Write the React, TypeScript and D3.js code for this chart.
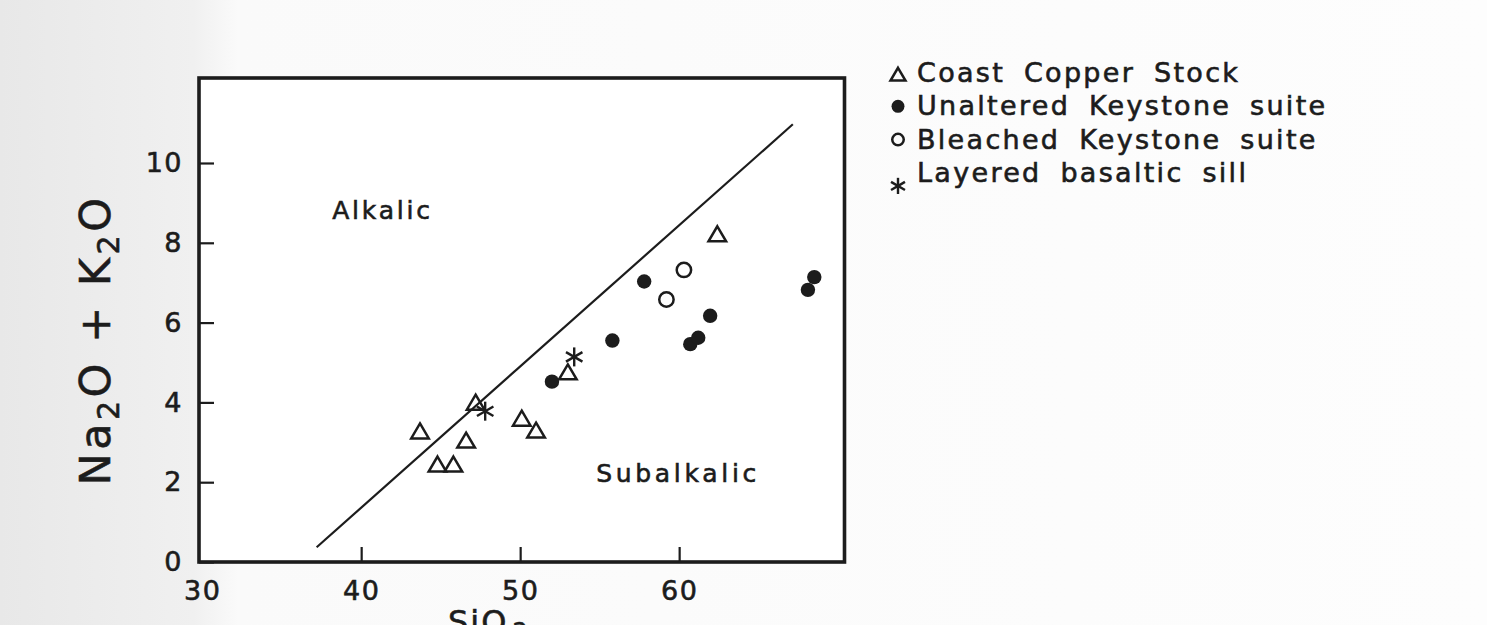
import React, { useEffect, useRef } from 'react';
import * as d3 from 'd3';

// values
const coastSiO2 = [43.7, 44.8, 45.8, 46.6, 47.2, 50.1, 51.0, 53.0, 62.4];
const coastAlk = [3.26, 2.43, 2.43, 3.03, 3.98, 3.58, 3.28, 4.74, 8.2];
const unalteredSiO2 = [52.0, 55.8, 57.8, 60.7, 61.2, 61.95, 68.1, 68.5];
const unalteredAlk = [4.52, 5.55, 7.03, 5.46, 5.62, 6.17, 6.82, 7.14];
const bleachedSiO2 = [59.2, 60.3];
const bleachedAlk = [6.58, 7.32];
const sillSiO2 = [47.8, 53.4];
const sillAlk = [3.78, 5.14];
const dividerSiO2 = [37.2, 67.15];
const dividerAlk = [0.37, 10.97];

const xTicks = [30, 40, 50, 60];
const yTicks = [0, 2, 4, 6, 8, 10];

const legendLabels = [
  'Coast Copper Stock',
  'Unaltered Keystone suite',
  'Bleached Keystone suite',
  'Layered basaltic sill',
];
const legendKinds = ['triangle', 'filled', 'open', 'star'];

const FONT = '"DejaVu Sans", sans-serif';
const INK = '#1c1c1c';

const Marker = ({ kind, x, y, s = 1 }: { kind: string; x: number; y: number; s?: number }) => {
  if (kind === 'triangle') {
    const w = 8.8 * s;
    return (
      <path
        d={`M${x},${y - 8.5 * s} L${x + w},${y + 6.5 * s} L${x - w},${y + 6.5 * s} Z`}
        fill="none"
        stroke={INK}
        strokeWidth={2.5}
        strokeLinejoin="miter"
      />
    );
  }
  if (kind === 'filled') return <circle cx={x} cy={y} r={7.2 * s} fill={INK} />;
  if (kind === 'open') return <circle cx={x} cy={y} r={7.2 * s} fill="none" stroke={INK} strokeWidth={2.5} />;
  const arm = 9.5 * s;
  const angles = [90, 30, 150];
  return (
    <g stroke={INK} strokeWidth={2.4}>
      {angles.map((a) => {
        const dx = Math.cos((a * Math.PI) / 180) * arm;
        const dy = Math.sin((a * Math.PI) / 180) * arm;
        return <line key={a} x1={x - dx} y1={y - dy} x2={x + dx} y2={y + dy} />;
      })}
    </g>
  );
};

const App = () => {
  const Width = 1487;
  const Height = 625;

  const xScale = d3.scaleLinear().domain([29.8, 70.4]).range([199, 844.5]);
  const yScale = d3.scaleLinear().domain([0, 12.13]).range([562, 78]);

  const xAxisRef = useRef<SVGGElement>(null);
  const yAxisRef = useRef<SVGGElement>(null);

  useEffect(() => {
    const xa = d3.select(xAxisRef.current!);
    xa.call(d3.axisBottom(xScale).tickValues(xTicks).tickSize(-15).tickPadding(19).tickFormat(d3.format('d')));
    xa.select('.domain').remove();
    xa.selectAll('line').attr('stroke', INK).attr('stroke-width', 2.2);
    // the 30 tick sits on the frame edge
    xa.selectAll<SVGGElement, number>('.tick').filter((d) => d === 30).select('line').remove();
    xa.selectAll('text')
      .attr('fill', INK)
      .attr('stroke', INK)
      .attr('stroke-width', 0.6)
      .style('font-size', '27px')
      .style('font-family', FONT)
      .style('letter-spacing', '1.5px');

    const ya = d3.select(yAxisRef.current!);
    ya.call(d3.axisLeft(yScale).tickValues(yTicks).tickSize(-15).tickPadding(16).tickFormat(d3.format('d')));
    ya.select('.domain').remove();
    ya.selectAll('line').attr('stroke', INK).attr('stroke-width', 2.2);
    ya.selectAll('text')
      .attr('fill', INK)
      .attr('stroke', INK)
      .attr('stroke-width', 0.6)
      .style('font-size', '27px')
      .style('font-family', FONT)
      .style('letter-spacing', '1.5px');
  }, []);

  const [x0, x1] = xScale.range();
  const [y0, y1] = yScale.range();

  const divider = d3
    .line<number>()
    .x((d) => xScale(d))
    .y((_, i) => yScale(dividerAlk[i]));

  const series = [
    { kind: 'triangle', xs: coastSiO2, ys: coastAlk },
    { kind: 'filled', xs: unalteredSiO2, ys: unalteredAlk },
    { kind: 'open', xs: bleachedSiO2, ys: bleachedAlk },
    { kind: 'star', xs: sillSiO2, ys: sillAlk },
  ];

  const legendOffsets = [-7, -9, -9, 4];
  const legendScale = [0.85, 0.9, 0.8, 0.85];

  const textStyle = { fontFamily: FONT, fill: INK, stroke: INK, strokeWidth: 0.6 };

  return (
    <svg width={Width} height={Height} style={{ position: 'absolute', left: 0, top: 0 }}>
      <defs>
        <linearGradient id="scan" x1="0" x2="1" y1="0" y2="0">
          <stop offset="0" stopColor="#e8e8e8" />
          <stop offset="0.13" stopColor="#f0f0f0" />
          <stop offset="0.16" stopColor="#fafafa" />
          <stop offset="1" stopColor="#fdfdfd" />
        </linearGradient>
      </defs>
      <rect x={0} y={0} width={Width} height={Height} fill="url(#scan)" />

      <rect x={x0} y={y1} width={x1 - x0} height={y0 - y1} fill="#ffffff" stroke={INK} strokeWidth={3.6} />

      <g ref={xAxisRef} transform={`translate(0, ${y0})`} />
      <g ref={yAxisRef} transform={`translate(${x0}, 0)`} />

      <path d={divider(dividerSiO2) || ''} fill="none" stroke={INK} strokeWidth={2.2} />

      {series.map((s) =>
        s.xs.map((v, i) => <Marker key={`${s.kind}-${i}`} kind={s.kind} x={xScale(v)} y={yScale(s.ys[i])} />)
      )}

      <text x={xScale(38.18)} y={yScale(8.6)} style={{ ...textStyle, fontSize: '25px', letterSpacing: '2.8px' }}>
        Alkalic
      </text>
      <text x={xScale(54.78)} y={yScale(2.0)} style={{ ...textStyle, fontSize: '25px', letterSpacing: '3.7px' }}>
        Subalkalic
      </text>

      <text
        transform={`translate(110, 340) rotate(-90)`}
        textAnchor="middle"
        style={{ ...textStyle, fontSize: '43px', letterSpacing: '3.5px' }}
      >
        Na<tspan fontSize="30px" dy="9">2</tspan>
        <tspan dy="-9">O  +  K</tspan>
        <tspan fontSize="30px" dy="9">2</tspan>
        <tspan dy="-9">O</tspan>
      </text>

      <text x={448} y={633} style={{ ...textStyle, fontSize: '32px', letterSpacing: '2px' }}>
        SiO<tspan fontSize="24px" dx="4" dy="7">2</tspan>
      </text>

      {legendLabels.map((label, i) => {
        const by = 82 + i * 33.3;
        return (
          <g key={label}>
            <Marker kind={legendKinds[i]} x={898} y={by + legendOffsets[i]} s={legendScale[i]} />
            <text
              x={917}
              y={by}
              style={{ ...textStyle, fontSize: '27px', letterSpacing: '2.3px', wordSpacing: '8px' }}
            >
              {label}
            </text>
          </g>
        );
      })}
    </svg>
  );
};

export default App;
